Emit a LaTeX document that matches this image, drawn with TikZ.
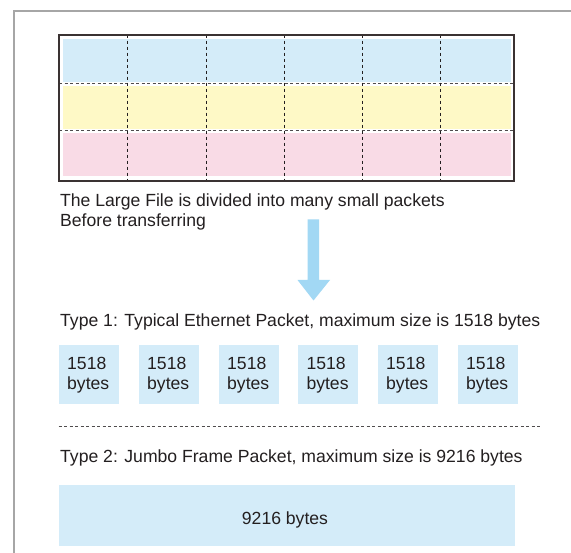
\documentclass[tikz,border=0pt]{standalone}
\usepackage{fontspec}
\setmainfont{Liberation Sans}
\definecolor{pblue}{HTML}{D4ECF9}
\definecolor{pyellow}{HTML}{FEF9C6}
\definecolor{ppink}{HTML}{F9DBE6}
\definecolor{arrowblue}{HTML}{A2D8F4}
\definecolor{framegray}{HTML}{A6A6A6}
\definecolor{ink}{HTML}{231F20}
\definecolor{boxline}{HTML}{3A3232}
\tikzset{
  lbl/.style={anchor=base west, inner sep=0pt, text=ink, font=\fontsize{17.6}{20}\selectfont},
  pkt/.style={fill=pblue, draw=none},
  pkttext/.style={anchor=base west, inner sep=0pt, text=ink, align=left, font=\fontsize{17.6}{20}\selectfont},
  vdash/.style={draw=ink, line width=0.9pt, dash pattern=on 3pt off 3pt},
  hdash/.style={draw=ink!80, line width=0.9pt, dash pattern=on 3pt off 2.5pt},
}
\begin{document}
\begin{tikzpicture}[x=1pt,y=-1pt]
\useasboundingbox (0,0) rectangle (571,553);
\fill[white] (0,0) rectangle (571,553);
% outer frame
\draw[framegray, line width=1.6pt] (13.8,553) -- (13.8,11) -- (571,11);
% large file
\fill[pblue] (62.7,39) rectangle (511,82);
\fill[pyellow] (62.7,85.7) rectangle (511,129);
\fill[ppink] (62.7,132.7) rectangle (511,175.7);
\foreach \yy in {83.3,130.9} \draw[hdash] (59,\yy) -- (514,\yy);
\foreach \xx in {127.5,206,284,362,440.5} \draw[vdash] (\xx,34.7) -- (\xx,181.3);
\draw[boxline, line width=1.8pt] (59,34.7) rectangle (514,181.3);
\node[lbl] (t1) at (60,206.7) {The Large File is divided into many small packets};
\node[lbl] (t2) at (60,226.7) {Before transferring};
% arrow
\fill[arrowblue] (307.7,219.3) -- (319,219.3) -- (319,280) -- (330,280) -- (313.5,300.5) -- (297.5,280) -- (307.7,280) -- cycle;
\node[lbl] (type1) at (60,326.3) {Type 1: Typical Ethernet Packet, maximum size is 1518 bytes};
\foreach \xx [count=\i] in {59,139,219,298.3,378,458} {
  \fill[pkt] (\xx,345) rectangle ++(60,59.3);
  \node[pkttext] (p\i) at (\xx+8,389.3) {1518\\bytes};
}
\draw[hdash] (58.6,426.4) -- (540,426.4);
\node[lbl] (type2) at (60,462.5) {Type 2: Jumbo Frame Packet, maximum size is 9216 bytes};
\fill[pkt] (58.6,485) rectangle (514.5,546);
\node[anchor=base, inner sep=0pt, text=ink, font=\fontsize{17.6}{20}\selectfont] (jumbo) at (285,525) {9216 bytes};
\end{tikzpicture}
\end{document}
